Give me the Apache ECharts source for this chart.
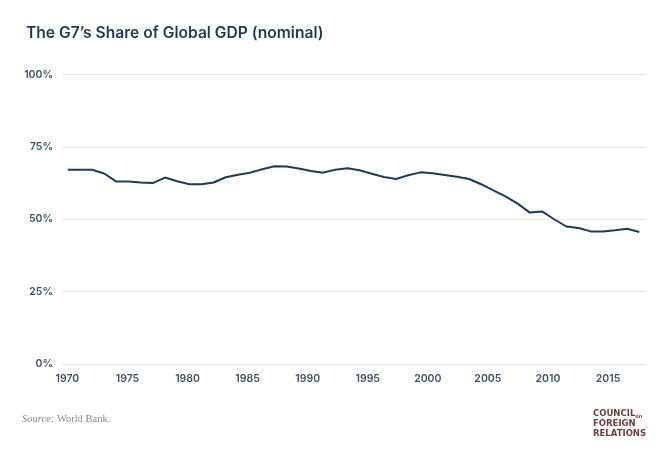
<!DOCTYPE html>
<html>
<head>
<meta charset="utf-8">
<script src="https://cdn.jsdelivr.net/npm/echarts@6/dist/echarts.min.js"></script>
<style>
html,body{margin:0;padding:0;background:#fff;}
#chart{width:658px;height:453px;}
</style>
</head>
<body>
<div id="chart"></div>
<script>
const years = [1970,1971,1972,1973,1974,1975,1976,1977,1978,1979,
  1980,1981,1982,1983,1984,1985,1986,1987,1988,1989,
  1990,1991,1992,1993,1994,1995,1996,1997,1998,1999,
  2000,2001,2002,2003,2004,2005,2006,2007,2008,2009,
  2010,2011,2012,2013,2014,2015,2016,2017];
const g7Share = [67.1,67.1,67.1,65.8,63.0,63.0,62.7,62.5,64.4,63.1,
  62.1,62.1,62.7,64.5,65.4,66.1,67.3,68.3,68.2,67.5,
  66.7,66.1,67.1,67.6,66.9,65.7,64.6,63.9,65.2,66.2,
  65.9,65.3,64.7,63.9,62.1,60.0,57.9,55.4,52.3,52.7,
  50.0,47.5,47.0,45.8,45.8,46.2,46.7,45.6];
const xTickLabels = [1970,1975,1980,1985,1990,1995,2000,2005,2010,2015];
const yTicks = [0,25,50,75,100];

const chart = echarts.init(document.getElementById('chart'));
const tickColor = '#415166';
chart.setOption({
  animation: false,
  backgroundColor: '#ffffff',
  title: {
    text: 'The G7\u2019s Share of Global GDP (nominal)',
    left: 21, top: 20,
    textStyle: {fontFamily: 'Inter', fontSize: 15.6, fontWeight: 600, color: '#1f3956'}
  },
  grid: {left: 62, right: 13, top: 74.5, bottom: 89},
  xAxis: [{
    type: 'value', min: 1969.53, max: 2017.47,
    axisLine: {show: false}, axisTick: {show: false},
    axisLabel: {show: false}, splitLine: {show: false}
  }, {
    type: 'value', min: 1969.55, max: 2018.08, position: 'bottom',
    axisLine: {show: false}, axisTick: {show: false}, splitLine: {show: false},
    axisLabel: {
      customValues: xTickLabels, margin: 9,
      fontFamily: 'Inter', fontSize: 10.5, fontWeight: 600, color: tickColor,
      formatter: v => String(v)
    }
  }],
  yAxis: {
    type: 'value', min: 0, max: 100, interval: 25,
    axisLine: {show: false}, axisTick: {show: false},
    axisLabel: {margin: 9, fontFamily: 'Inter', fontSize: 10.5, fontWeight: 600, color: tickColor,
      formatter: '{value}%'},
    splitLine: {lineStyle: {color: '#e6e6e6', width: 1}}
  },
  series: [{
    type: 'line',
    xAxisIndex: 0,
    data: years.map((y, i) => [y, g7Share[i]]),
    showSymbol: false,
    lineStyle: {color: '#1e3a5c', width: 2},
    itemStyle: {color: '#1e3a5c'}
  }],
  graphic: [{
    type: 'text', left: 22, top: 414,
    style: {
      text: '{i|Source:} World Bank.',
      rich: {i: {fontStyle: 'italic', fontFamily: 'Liberation Serif', fontSize: 10.5, fill: '#8a8a8a'}},
      fontFamily: 'Liberation Serif', fontSize: 10.5, fill: '#8a8a8a'
    }
  }, {
    type: 'text', left: 593, top: 409,
    style: {
      text: 'COUNCIL{s|on}\nFOREIGN\nRELATIONS',
      rich: {s: {fontSize: 5, fontFamily: 'DejaVu Sans', fontWeight: 'bold', fill: '#6e3d3d', verticalAlign: 'bottom'}},
      fontFamily: 'DejaVu Sans', fontSize: 8.5, fontWeight: 'bold', lineHeight: 10, fill: '#6e3d3d'
    }
  }]
});
</script>
</body>
</html>
